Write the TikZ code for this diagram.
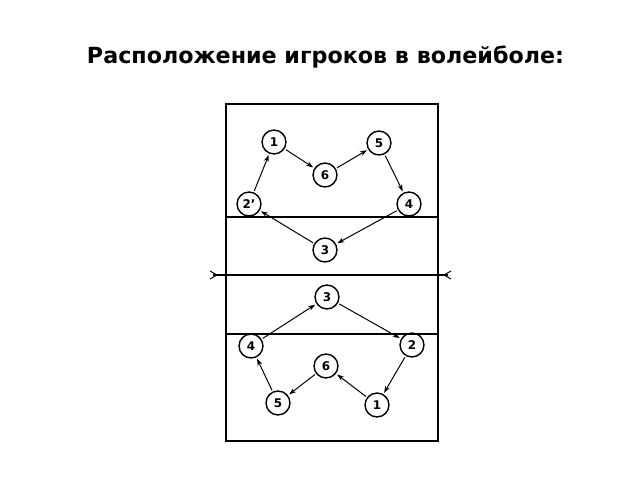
\documentclass[tikz,border=0pt]{standalone}
\usepackage{fontspec}
\setmainfont{DejaVu Sans}
\usetikzlibrary{arrows.meta}
\begin{document}
\begin{tikzpicture}
[x=0.025cm,y=-0.025cm,
  courtdecorate/.style={line width=1.4pt},%
  nodedecorate/.style={shape=circle,minimum size=17pt,inner sep=0pt,draw,line width=1pt,
    font=\fontsize{8.5}{9}\selectfont\bfseries},%
  linedecorate/.style={-{Stealth[length=5pt,width=3.5pt]},line width=0.7pt,shorten >=1pt,shorten <=1pt}]
\useasboundingbox (0,0) rectangle (640,480);
%% title
\node (title) at (325.5,57) {\fontsize{15.8}{18}\selectfont\bfseries Расположение игроков в волейболе:};
%% court
\draw[courtdecorate] (226,104) rectangle (438,441);
\draw[courtdecorate] (226,217) -- (438,217);
\draw[courtdecorate] (226,334) -- (438,334);
\coordinate (netl) at (213,275);
\coordinate (netr) at (448,275);
\draw[line width=0.9pt] (netl) -- (netr);
\draw[line width=0.7pt] ([shift={(-3,-4)}]netl) -- ([shift={(4,0)}]netl) -- ([shift={(-3,4)}]netl);
\draw[line width=0.7pt] ([shift={(3,-4)}]netr) -- ([shift={(-4,0)}]netr) -- ([shift={(3,4)}]netr);
%% nodes or vertices
\foreach \nodename/\x/\y/\lab in {t1/274/142/1, t6/325/175/6, t5/379/143/5,
  t2/249/204/2', t4/409/204/4, t3/325/250/3,
  b3/327/297/3, b4/251/346/4, b2/412/345/2, b6/326/366/6,
  b5/278/403/5, b1/377/405/1} {
  \node (\nodename) at (\x,\y) [nodedecorate] {\lab};
}
%% edges or lines
\path
\foreach \startnode/\endnode in {t2/t1, t1/t6, t6/t5, t5/t4, t4/t3, t3/t2,
  b4/b3, b3/b2, b2/b1, b1/b6, b6/b5, b5/b4} {
  (\startnode) edge[linedecorate] (\endnode)
};
\end{tikzpicture}
\end{document}
